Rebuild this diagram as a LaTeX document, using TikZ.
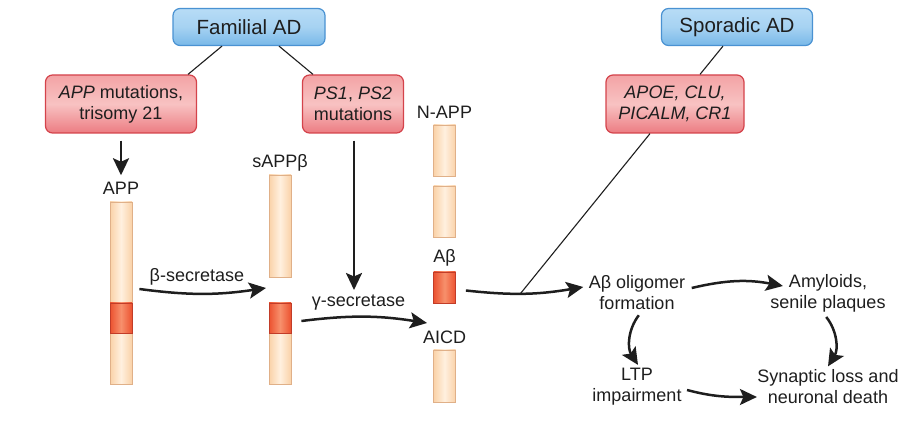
\documentclass[tikz,border=0pt]{standalone}
\usepackage{fontspec}
\setmainfont{Liberation Sans}
\usetikzlibrary{arrows.meta,positioning}

\definecolor{inktext}{HTML}{1E1E1E}
\definecolor{bluetop}{HTML}{B7DCF6}
\definecolor{bluemid}{HTML}{A6D2F2}
\definecolor{bluebot}{HTML}{78B8E8}
\definecolor{blueline}{HTML}{4A92D2}
\definecolor{redtop}{HTML}{F3A3A5}
\definecolor{redmid}{HTML}{F8C2C2}
\definecolor{redbot}{HTML}{EC7C82}
\definecolor{redline}{HTML}{D4434B}
\definecolor{barmid}{HTML}{FFF0DF}
\definecolor{barside}{HTML}{FAD2A8}
\definecolor{barline}{HTML}{E0B088}
\definecolor{abmid}{HTML}{F7906C}
\definecolor{abside}{HTML}{EC5230}
\definecolor{abline}{HTML}{C23C28}

\tikzset{
  arrowtip/.tip={Stealth[length=17pt,width=16pt,inset=3.5pt]}
}

\begin{document}
\begin{tikzpicture}[x=1pt,y=1pt,
  every node/.style={font=\fontsize{18}{21}\selectfont, text=inktext, align=center},
  head/.style={draw=blueline, line width=1.2pt, rounded corners=7pt,
    top color=bluetop, bottom color=bluebot, middle color=bluemid,
    minimum height=37pt, font=\fontsize{20.5}{23}\selectfont},
  gene/.style={draw=redline, line width=1.2pt, rounded corners=7pt,
    top color=redtop, bottom color=redbot, middle color=redmid,
    minimum height=58pt, inner sep=2pt},
  chain/.style={draw=barline, line width=0.8pt, left color=barside,
    right color=barside, middle color=barmid, minimum width=22pt, inner sep=0pt},
  abseg/.style={chain, draw=abline, left color=abside, right color=abside,
    middle color=abmid},
  arr/.style={-arrowtip, line width=2.5pt, draw=inktext},
  link/.style={line width=1.1pt, draw=inktext}]

  \useasboundingbox (0,0) rectangle (905,425);

  %% causes
  \node[head, minimum width=152pt] (familial) at (249,398) {Familial AD};
  \node[head, minimum width=151pt] (sporadic) at (737,398) {Sporadic AD};
  \node[gene, minimum width=151pt] (appmut) at (121,321)
    {\emph{APP} mutations,\\trisomy 21};
  \node[gene, minimum width=101pt] (psmut) at (353,321)
    {\emph{PS1}, \emph{PS2}\\mutations};
  \node[gene, minimum width=138pt] (risk) at (675,321)
    {\emph{APOE, CLU,}\\\emph{PICALM, CR1}};

  \draw[link] ([xshift=-27pt]familial.south) -- ([xshift=67pt]appmut.north);
  \draw[link] ([xshift=30pt]familial.south) -- ([xshift=-40pt]psmut.north);
  \draw[link] ([xshift=-14pt]sporadic.south) -- ([xshift=25pt]risk.north);

  %% fragments
  \node (applbl) at (121,237) {APP};
  \node[chain, minimum height=182pt] (app) at (121,132) {};
  \node[abseg, minimum height=30pt] (appab) at (121,107) {};

  \node (sapplbl) at (280,262) {sAPPβ};
  \node[chain, minimum height=102pt] (sapp) at (280,199) {};
  \node[chain, minimum height=81pt] (ctf) at (280,81.5) {};
  \node[abseg, minimum height=30pt] (ctfab) at (280,107) {};

  \node (napplbl) at (444.5,313) {N-APP};
  \node[chain, minimum height=51pt] (napp) at (444.5,274.5) {};
  \node[chain, minimum height=51pt] (nappb) at (444.5,213.5) {};
  \node (ablbl) at (444.5,167) {Aβ};
  \node[abseg, minimum height=31pt] (abeta) at (444.5,137.5) {};
  \node (aicdlbl) at (444.5,88) {AICD};
  \node[chain, minimum height=52pt] (aicd) at (444.5,49) {};

  \coordinate (betacut) at (266,137);
  \coordinate (gammacut) at (354,135);
  \coordinate (gammaend) at (427,102);

  \draw[arr, shorten <=7pt, shorten >=3pt] (appmut) -- (applbl);
  \draw[arr] ([xshift=7pt,yshift=4pt]app.east) to[bend right=8]
    node[pos=0.45, above=4pt]{β-secretase} (betacut);
  \draw[arr, shorten <=7pt] ([xshift=1pt]psmut.south) -- (gammacut);
  \draw[arr] ([xshift=10pt,yshift=-3pt]ctfab.east) to[bend left=8]
    node[pos=0.45, above=2pt]{γ-secretase} (gammaend);

  %% consequences
  \node (olig) at (637,132) {Aβ oligomer\\formation};
  \node (amyl) at (828,132) {Amyloids,\\senile plaques};
  \node (ltp) at (637,38) {LTP\\impairment};
  \node (synap) at (828,38) {Synaptic loss and\\neuronal death};

  \draw[arr] ([xshift=10pt,yshift=-3pt]abeta.east) to[bend right=8]
    coordinate[pos=0.46] (join) ([xshift=-2pt,yshift=6pt]olig.west);
  \draw[link] ([xshift=-25pt]risk.south) -- (join);
  \draw[arr] ([xshift=3pt,yshift=5pt]olig.east) to[bend left=12]
    ([xshift=16pt,yshift=7pt]amyl.west);
  \draw[arr, shorten <=2pt] ([xshift=3pt]olig.south) to[bend right=35]
    ([xshift=1pt]ltp.north);
  \draw[arr, shorten <=2pt] ([xshift=-3pt]amyl.south) to[bend left=35]
    (synap.north);
  \draw[arr] ([xshift=2pt,yshift=-3pt]ltp.east) to[out=-15,in=180]
    ([xshift=3pt,yshift=-10pt]synap.west);

\end{tikzpicture}
\end{document}
